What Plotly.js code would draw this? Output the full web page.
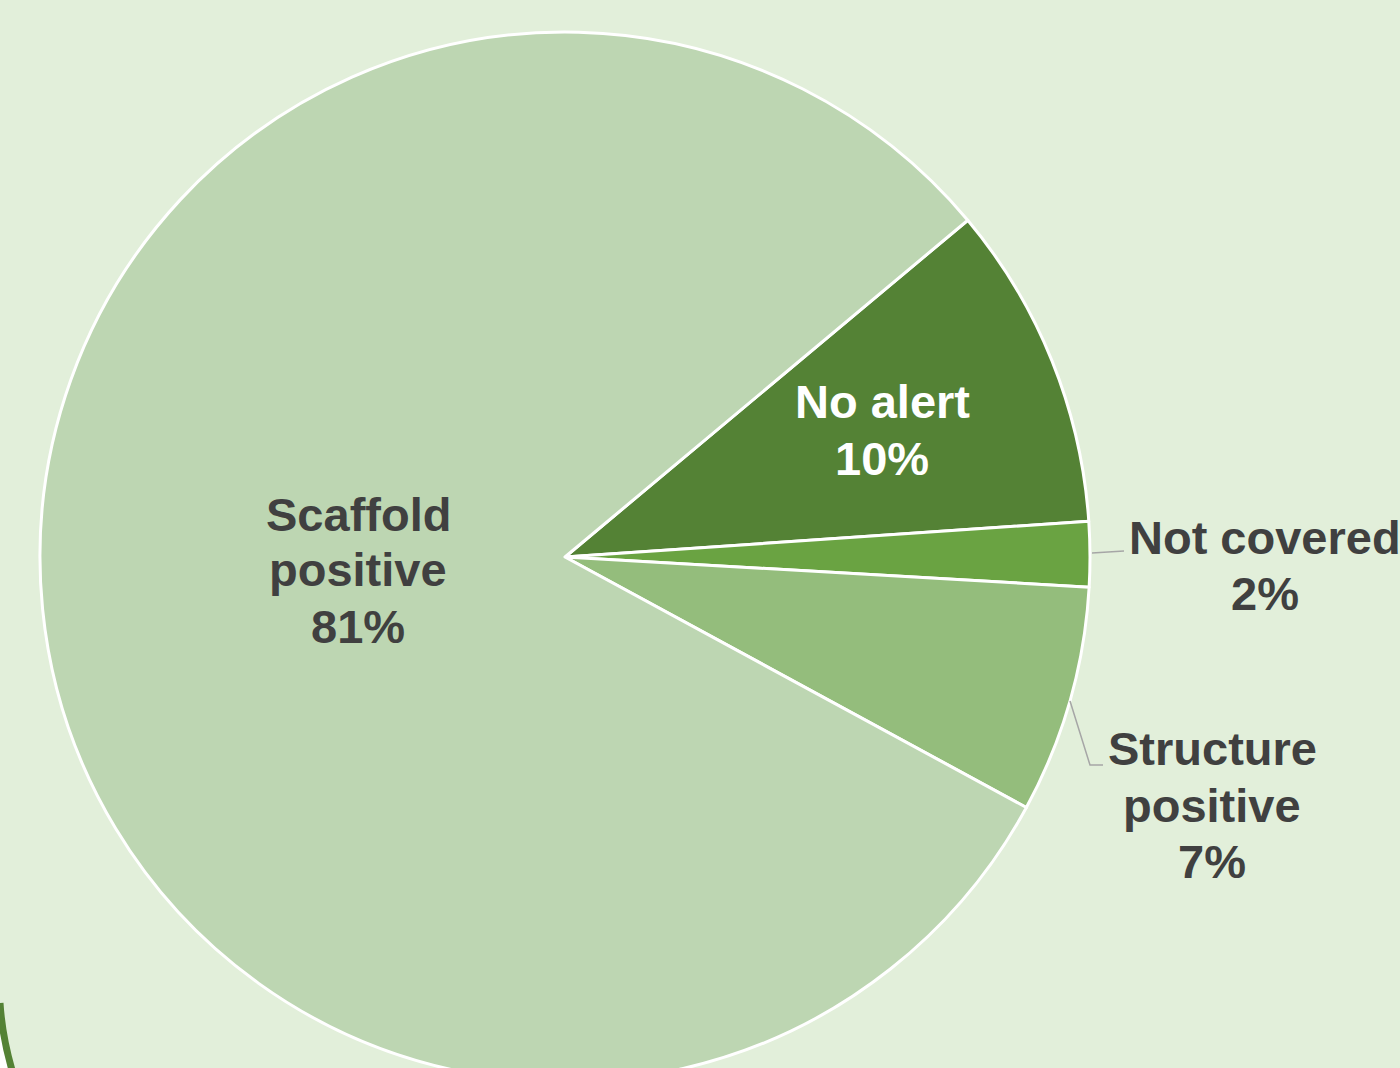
<!DOCTYPE html>
<html>
<head>
<meta charset="utf-8">
<script src="https://cdn.plot.ly/plotly-3.0.1.min.js"></script>
<style>
html,body{margin:0;padding:0;background:#E2EFDA;overflow:hidden;}
#wrap{width:1400px;height:1068px;overflow:hidden;position:relative;}
</style>
</head>
<body>
<div id="wrap"><div id="chart"></div></div>
<script>
// ---- data ----
const categories = ['No alert', 'Not covered', 'Structure positive', 'Scaffold positive'];
const displayLabels = ['No alert', 'Not covered', 'Structure<br>positive', 'Scaffold<br>positive'];
const percentValues = [10, 2, 7, 81];
const sliceColors = ['#548235', '#6AA342', '#94BD7C', '#BDD6B2'];
const labelColors = ['#FFFFFF', '#404040', '#404040', '#404040'];

// ---- layout helpers ----
const W = 1400, H = 1112;
const px = x => x / W;
const py = y => (H - y) / H;
const R = 525, CX = 565, CY = 557;

// label block centres (pixels) and line spacing
const labelCentres = [[882, 430], [1265, 565], [1212, 805], [358, 570]];
const lineGap = 56;

const annotations = [];
categories.forEach((c, i) => {
  const lines = displayLabels[i].split('<br>').concat([percentValues[i] + '%']);
  const n = lines.length;
  lines.forEach((t, j) => {
    const y = labelCentres[i][1] + (j - (n - 1) / 2) * lineGap;
    annotations.push({
      x: px(labelCentres[i][0]), y: py(y), xref: 'paper', yref: 'paper',
      xanchor: 'center', yanchor: 'middle', showarrow: false,
      text: '<b>' + t + '</b>',
      font: {family: '"Liberation Sans", Arial, sans-serif', size: 47, color: labelColors[i]}
    });
  });
});

const shapes = [
  // leader line: Not covered
  {type: 'path', xref: 'paper', yref: 'paper',
   path: `M ${px(1092)},${py(553)} L ${px(1124)},${py(551)}`,
   line: {color: '#A6A6A6', width: 1.5}},
  // leader line: Structure positive
  {type: 'path', xref: 'paper', yref: 'paper',
   path: `M ${px(1070)},${py(701)} L ${px(1090)},${py(765)} L ${px(1103)},${py(765)}`,
   line: {color: '#A6A6A6', width: 1.5}},
  // white corner outside decorative border
  {type: 'path', xref: 'paper', yref: 'paper',
   path: `M ${px(0)},${py(1003)} Q ${px(3)},${py(1050)} ${px(22)},${py(1100)} L ${px(22)},${py(1112)} L ${px(0)},${py(1112)} Z`,
   fillcolor: '#FFFFFF', line: {width: 0}},
  {type: 'path', xref: 'paper', yref: 'paper',
   path: `M ${px(0)},${py(1003)} Q ${px(3)},${py(1050)} ${px(22)},${py(1100)}`,
   line: {color: '#548235', width: 7}}
];

const trace = {
  type: 'pie',
  labels: categories,
  values: percentValues,
  sort: false,
  direction: 'clockwise',
  rotation: 50.1,
  marker: {colors: sliceColors, line: {color: '#FFFFFF', width: 3}},
  textinfo: 'none',
  hoverinfo: 'label+percent',
  domain: {x: [px(CX - R), px(CX + R)], y: [py(CY + R), py(CY - R)]}
};

const layout = {
  width: W, height: H,
  margin: {l: 0, r: 0, t: 0, b: 0},
  paper_bgcolor: '#E2EFDA',
  plot_bgcolor: '#E2EFDA',
  showlegend: false,
  annotations: annotations,
  shapes: shapes
};

Plotly.newPlot('chart', [trace], layout, {displayModeBar: false, staticPlot: true});
</script>
</body>
</html>
